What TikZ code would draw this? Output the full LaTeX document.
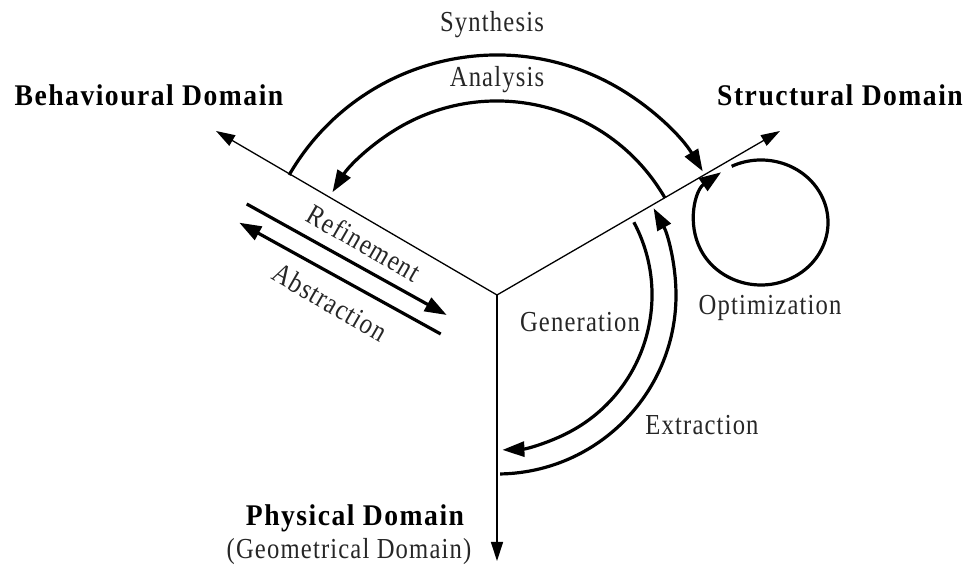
\documentclass[tikz,border=0pt]{standalone}
\usepackage{fontspec}
\setmainfont{Liberation Serif}
\newfontfamily\lblfont[FakeStretch=0.85,LetterSpace=4]{Liberation Serif}
\newfontfamily\domfont[FakeStretch=0.92,LetterSpace=5]{Liberation Serif}
\usetikzlibrary{arrows.meta,calc}
\begin{document}
\begin{tikzpicture}[x=1pt,y=1pt,
  axis/.style={line width=1.3pt,-{Triangle[length=19pt,width=12pt]}},
  flow/.style={line width=3.2pt,-{Triangle[length=22pt,width=15pt]}},
  domlbl/.style={font=\domfont\fontsize{30}{34}\selectfont\bfseries, inner sep=0pt},
  lbl/.style={font=\lblfont\fontsize{29}{32}\selectfont, text=black!85, inner sep=0pt}]
\useasboundingbox (0,0) rectangle (970,567);

% origin of the three domain axes
\coordinate (O) at (497,272);
\coordinate (beh) at (216,436);
\coordinate (str) at (780,436);
\coordinate (phy) at (497,6);

\draw[axis] (O) -- (beh);
\draw[axis] (O) -- (str);
\draw[axis] (O) -- (phy);

% start points of the transformation arcs
\coordinate (synS) at ($(O)+(150:240)$);
\coordinate (anaS) at ($(O)+(30:194)$);
\coordinate (genS) at ($(O)+(28:155)$);
\coordinate (extS) at ($(O)+(-89:179)$);
\coordinate (optC) at (761,344.5);
\coordinate (optS) at ($(optC)+({67*cos(116)},{62.5*sin(116)})$);

\draw[flow] (synS) arc[start angle=150, end angle=31, radius=240];
\draw[flow] (anaS) arc[start angle=30, end angle=148, radius=194];
\draw[flow] (genS) arc[start angle=28, end angle=-88, radius=155];
\draw[flow] (extS) arc[start angle=-89, end angle=29, radius=179];
\draw[flow] (optS) arc[start angle=116, end angle=-233.5, x radius=67, y radius=62.5];

% refinement / abstraction along the behavioural axis
\coordinate (refS) at (246.7,363);
\coordinate (refE) at (446.7,252);
\coordinate (absS) at (440.7,233);
\coordinate (absE) at (239.3,344.3);
\draw[flow] (refS) -- (refE);
\draw[flow] (absS) -- (absE);

% domain names
\node[domlbl] (behL) at (149,472) {Behavioural Domain};
\node[domlbl] (strL) at (840,472) {Structural Domain};
\node[domlbl] (phyL) at (355,49) {Physical Domain};
\node[lbl] (geoL) at (349,15) {(Geometrical Domain)};

% transformation labels
\node[lbl] (synL) at (492,542) {Synthesis};
\node[lbl] (anaL) at (497,487) {Analysis};
\node[lbl, rotate=-30] (refL) at (364,324) {Refinement};
\node[lbl, rotate=-30] (absL) at (330,265) {Abstraction};
\node[lbl] (genL) at (580,245) {Generation};
\node[lbl] (extL) at (702,142) {Extraction};
\node[lbl] (optL) at (770,259) {Optimization};
\end{tikzpicture}
\end{document}
